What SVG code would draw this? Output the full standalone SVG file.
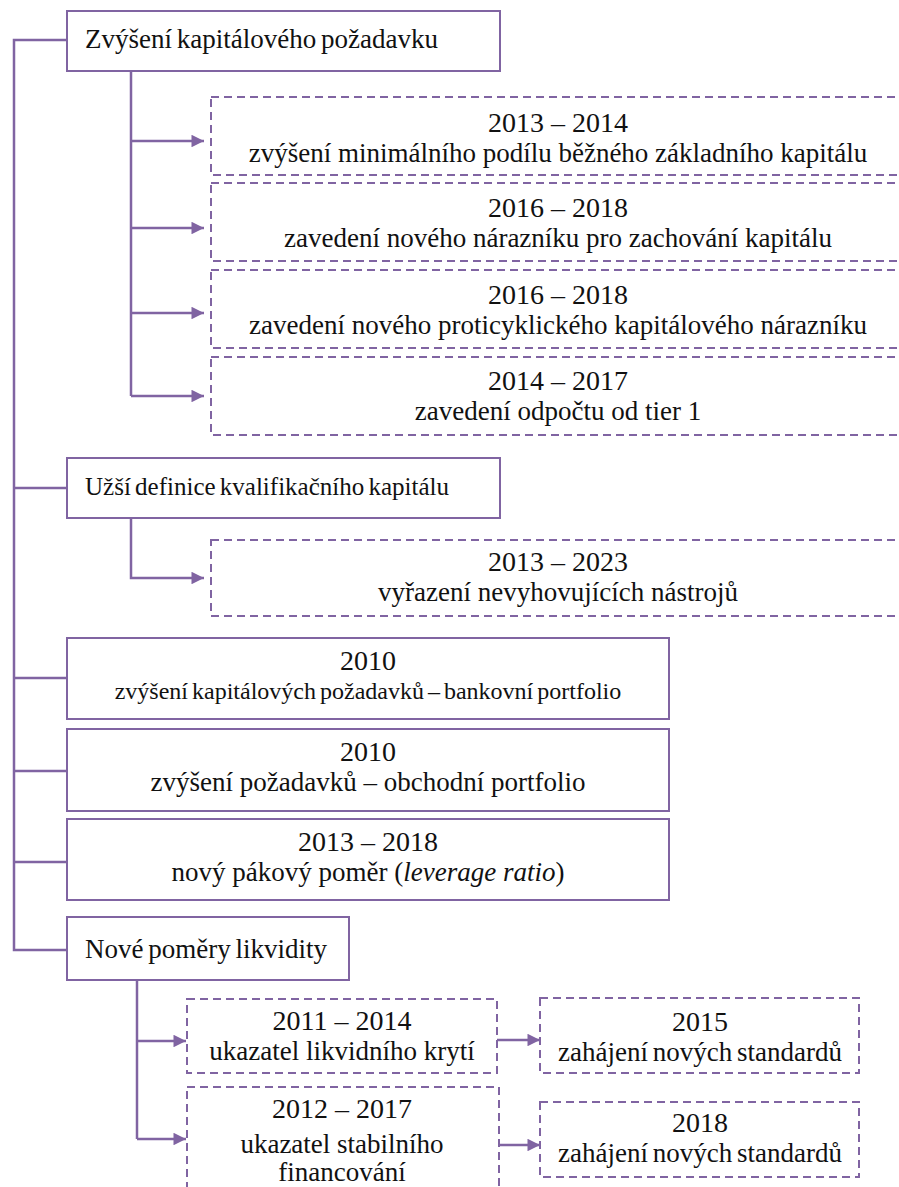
<svg xmlns="http://www.w3.org/2000/svg" width="899" height="1187" viewBox="0 0 899 1187">
<defs>
<style>
.solid{fill:#fff;stroke:#8064A2;stroke-width:2}
.dash{fill:#fff;stroke:#8064A2;stroke-width:2;stroke-dasharray:8 5}
.ln{fill:none;stroke:#8064A2;stroke-width:2.5}
.c{text-anchor:middle}
.y{font-size:28px}
.h{word-spacing:-2px}
</style>
<marker id="ah" viewBox="0 0 10 10" refX="10" refY="5" markerWidth="5.5" markerHeight="5" markerUnits="strokeWidth" orient="auto">
<path d="M0,0 L10,5 L0,10 z" fill="#8064A2"/>
</marker>
</defs>
<rect width="899" height="1187" fill="#fff"/>
<g id="connectors">
<path class="ln" d="M67,40 H14 V950 H67"/>
<path class="ln" d="M14,488 H67"/>
<path class="ln" d="M14,678 H67"/>
<path class="ln" d="M14,771 H67"/>
<path class="ln" d="M14,862 H67"/>
<path class="ln" d="M131,71 V396"/>
<path class="ln" d="M131,141 H204" marker-end="url(#ah)"/>
<path class="ln" d="M131,228 H204" marker-end="url(#ah)"/>
<path class="ln" d="M131,313 H204" marker-end="url(#ah)"/>
<path class="ln" d="M131,396 H204" marker-end="url(#ah)"/>
<path class="ln" d="M131,518 V578 H204" marker-end="url(#ah)"/>
<path class="ln" d="M137,980 V1139"/>
<path class="ln" d="M137,1041 H186" marker-end="url(#ah)"/>
<path class="ln" d="M137,1139 H186" marker-end="url(#ah)"/>
<path class="ln" d="M497,1040 H540" marker-end="url(#ah)"/>
<path class="ln" d="M499,1145 H540" marker-end="url(#ah)"/>
</g>
<g font-family="Liberation Serif, DejaVu Serif, serif" font-size="27" fill="#111">
<g id="n1">
<rect class="solid" x="67" y="11" width="433" height="60"/>
<text x="85" y="48" class="h">Zvýšení kapitálového požadavku</text>
</g>
<g id="n1a">
<rect class="dash" x="211" y="97" width="694" height="78"/>
<text x="558" y="132" class="c y">2013 – 2014</text>
<text x="558" y="162" class="c">zvýšení minimálního podílu běžného základního kapitálu</text>
</g>
<g id="n1b">
<rect class="dash" x="211" y="183" width="694" height="78"/>
<text x="558" y="217" class="c y">2016 – 2018</text>
<text x="558" y="247" class="c">zavedení nového nárazníku pro zachování kapitálu</text>
</g>
<g id="n1c">
<rect class="dash" x="211" y="270" width="694" height="78"/>
<text x="558" y="304" class="c y">2016 – 2018</text>
<text x="558" y="334" class="c">zavedení nového proticyklického kapitálového nárazníku</text>
</g>
<g id="n1d">
<rect class="dash" x="211" y="357" width="694" height="78"/>
<text x="558" y="390" class="c y">2014 – 2017</text>
<text x="558" y="420" class="c">zavedení odpočtu od tier 1</text>
</g>
<g id="n2">
<rect class="solid" x="67" y="458" width="433" height="60"/>
<text x="85" y="495" class="h" font-size="25">Užší definice kvalifikačního kapitálu</text>
</g>
<g id="n2a">
<rect class="dash" x="211" y="540" width="694" height="76"/>
<text x="558" y="571" class="c y">2013 – 2023</text>
<text x="558" y="601" class="c">vyřazení nevyhovujících nástrojů</text>
</g>
<g id="n3">
<rect class="solid" x="67" y="638" width="602" height="81"/>
<text x="368" y="670" class="c y">2010</text>
<text x="368" y="699" class="c h" font-size="24">zvýšení kapitálových požadavků – bankovní portfolio</text>
</g>
<g id="n4">
<rect class="solid" x="67" y="729" width="602" height="82"/>
<text x="368" y="761" class="c y">2010</text>
<text x="368" y="791" class="c">zvýšení požadavků – obchodní portfolio</text>
</g>
<g id="n5">
<rect class="solid" x="67" y="819" width="602" height="81"/>
<text x="368" y="851" class="c y">2013 – 2018</text>
<text x="368" y="881" class="c">nový pákový poměr (<tspan font-style="italic">leverage ratio</tspan>)</text>
</g>
<g id="n6">
<rect class="solid" x="67" y="917" width="282" height="63"/>
<text x="85" y="958" class="h">Nové poměry likvidity</text>
</g>
<g id="n6a">
<rect class="dash" x="187" y="999" width="310" height="74"/>
<text x="342" y="1030" class="c y">2011 – 2014</text>
<text x="342" y="1060" class="c">ukazatel likvidního krytí</text>
</g>
<g id="n6b">
<rect class="dash" x="187" y="1087" width="312" height="110"/>
<text x="342" y="1118" class="c y">2012 – 2017</text>
<text x="342" y="1153" class="c">ukazatel stabilního</text>
<text x="342" y="1181" class="c">financování</text>
</g>
<g id="n6a1">
<rect class="dash" x="540" y="998" width="319" height="75"/>
<text x="700" y="1031" class="c y">2015</text>
<text x="700" y="1061" class="c h">zahájení nových standardů</text>
</g>
<g id="n6b1">
<rect class="dash" x="540" y="1102" width="319" height="75"/>
<text x="700" y="1132" class="c y">2018</text>
<text x="700" y="1162" class="c h">zahájení nových standardů</text>
</g>
</g>
</svg>
